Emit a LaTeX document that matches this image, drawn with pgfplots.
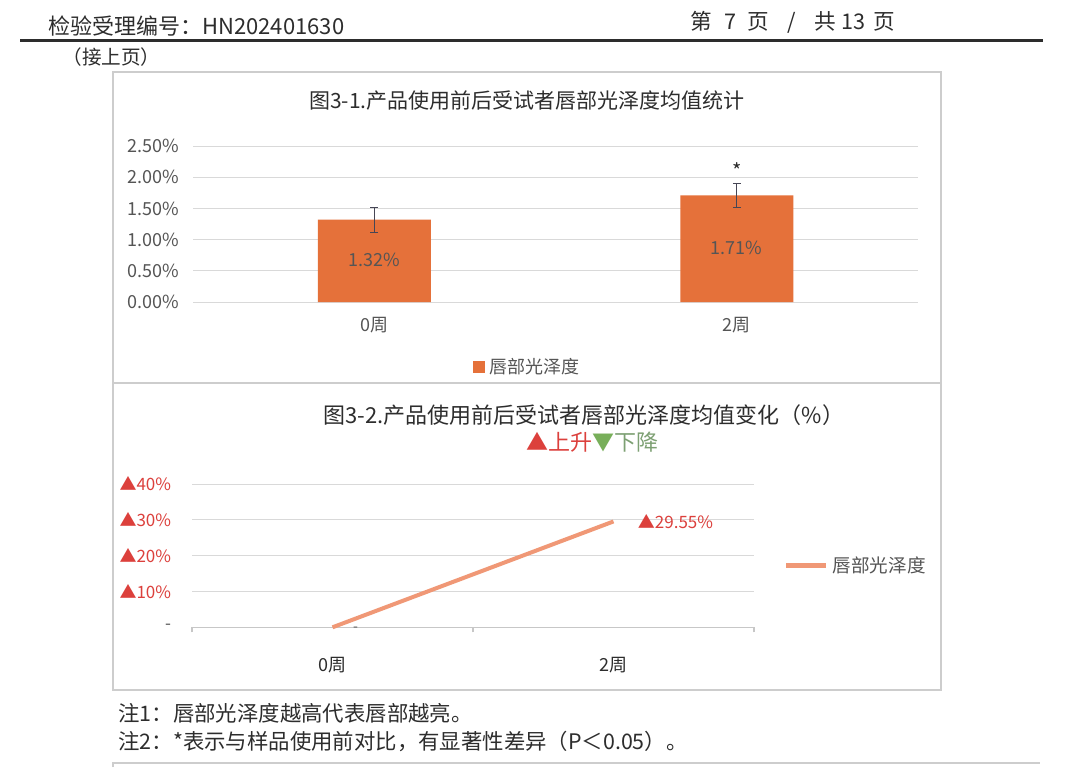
\documentclass[border=0pt]{standalone}
\usepackage{fontspec}
\setmainfont{Noto Sans CJK SC}
\usepackage{pgfplots}
\pgfplotsset{compat=1.18}
\definecolor{barcol}{RGB}{229,113,58}
\definecolor{linecol}{RGB}{240,152,118}
\definecolor{redc}{RGB}{220,64,60}
\definecolor{greentri}{RGB}{120,175,90}
\definecolor{greentext}{RGB}{125,160,115}
\definecolor{gridc}{RGB}{217,217,217}
\definecolor{textgray}{RGB}{85,85,85}
\definecolor{boxgray}{RGB}{205,205,205}
\definecolor{errc}{RGB}{70,70,85}
\definecolor{darktext}{RGB}{45,45,45}
\begin{document}
\begin{tikzpicture}
\fill[white] (0,0) rectangle (540pt,383.5pt);
\path[use as bounding box] (0,0) rectangle (540pt,383.5pt);
% header
\node[anchor=west, inner sep=0pt, text=darktext, font=\fontsize{11}{12}\selectfont] at (24pt,370.25pt) {检验受理编号：HN202401630};
\node[anchor=west, inner sep=0pt, text=darktext, font=\fontsize{10.8}{12}\selectfont] at (345pt,372.5pt) {第\hspace{6pt}7\hspace{6pt}页\hspace{9pt}/\hspace{9pt}共\hspace{3pt}13\hspace{4pt}页};
\draw[darktext, line width=1.4pt] (10pt,363.25pt) -- (521.5pt,363.25pt);
\node[anchor=west, inner sep=0pt, text=darktext, font=\fontsize{9.8}{11}\selectfont] at (31pt,355pt) {（接上页）};
% boxes
\draw[boxgray, line width=0.6pt] (56.5pt,347.5pt) rectangle (470.5pt,38.5pt);
\draw[boxgray, line width=0.6pt] (56.5pt,192pt) -- (470.5pt,192pt);
\draw[boxgray, line width=0.6pt] (56.5pt,0pt) -- (56.5pt,2pt) -- (520pt,2pt);
% chart 1 title
\node[text=darktext, font=\fontsize{10.5}{12}\selectfont] at (263.5pt,333pt) {图3-1.产品使用前后受试者唇部光泽度均值统计};
\begin{axis}[
  at={(96.5pt,232.5pt)}, anchor=south west,
  scale only axis, width=362.5pt, height=78pt,
  xmin=-0.5, xmax=1.5, ymin=0, ymax=2.5,
  axis line style={draw=none}, tick style={draw=none},
  ymajorgrids, grid style={gridc, line width=0.5pt},
  ytick={0,0.5,1,1.5,2,2.5},
  yticklabels={0.00\%,0.50\%,1.00\%,1.50\%,2.00\%,2.50\%},
  xtick={0,1}, xticklabels={0周,2周},
  ticklabel style={text=textgray, font=\fontsize{9}{10}\selectfont},
  yticklabel style={inner xsep=0pt, xshift=-7pt},
  xticklabel style={yshift=-4pt},
  clip=false,
  legend style={at={(0.386,-0.417)}, anchor=west, draw=none, fill=none, inner sep=0pt,
    font=\fontsize{9}{10}\selectfont, text=textgray},
  legend cell align=left,
]
\addplot[ybar, bar width=56.5pt, fill=barcol, draw=none,
  legend image code/.code={\fill[barcol] (0pt,-3pt) rectangle (6pt,3pt);},
  error bars/.cd, y dir=both, y explicit,
  error bar style={line width=0.6pt, errc},
  error mark options={rotate=90, mark size=2pt, line width=0.6pt, errc}]
  coordinates {(0,1.32) +- (0,0.2) (1,1.71) +- (0,0.19)};
\addlegendentry{唇部光泽度}
\node[text=textgray, font=\fontsize{9}{10}\selectfont] at (axis cs:0,0.67) {1.32\%};
\node[text=textgray, font=\fontsize{9}{10}\selectfont] at (axis cs:1,0.87) {1.71\%};
\node[text=darktext, font=\fontsize{10}{10}\selectfont] at (axis cs:1,2.1) {*};
\end{axis}
% chart 2 title
\node[text=darktext, font=\fontsize{11}{12}\selectfont] at (292pt,176pt) {图3-2.产品使用前后受试者唇部光泽度均值变化（\%）};
\node[font=\fontsize{11}{12}\selectfont] at (296pt,162.5pt) {\textcolor{redc}{▲上升}\textcolor{greentri}{▼}\textcolor{greentext}{下降}};
\begin{axis}[
  at={(96pt,69.85pt)}, anchor=south west,
  scale only axis, width=281pt, height=71.65pt,
  xmin=-0.5, xmax=1.5, ymin=0, ymax=40,
  axis x line*=bottom, axis y line*=left,
  x axis line style={-, draw=gridc!80!gray, line width=0.6pt},
  y axis line style={draw=none},
  ytick style={draw=none},
  ymajorgrids, grid style={gridc, line width=0.5pt},
  ytick={0,10,20,30,40},
  yticklabels={\textcolor{textgray}{-},▲10\%,▲20\%,▲30\%,▲40\%},
  xtick={0,1}, xticklabels={0周,2周},
  major x tick style={draw=none},
  minor xtick={-0.5,0.5,1.5}, minor tick length=2.5pt, tick align=outside,
  minor x tick style={gridc!80!gray, line width=0.6pt},
  yticklabel style={text=redc, font=\fontsize{8.5}{10}\selectfont, inner xsep=0pt, xshift=-6pt},
  xticklabel style={text=darktext, font=\fontsize{9}{10}\selectfont, yshift=-7pt},
  clip=false,
  legend style={at={(1.052,0.428)}, anchor=west, draw=none, fill=none, inner sep=0pt,
    font=\fontsize{9.3}{10}\selectfont, text=textgray},
  legend cell align=left,
]
\addplot[linecol, line width=2pt,
  legend image code/.code={\draw[linecol, line width=2.5pt] (0pt,0pt) -- (20pt,0pt);}]
  coordinates {(0,0) (1,29.55)};
\addlegendentry{唇部光泽度}
\node[anchor=west, text=redc, font=\fontsize{8.5}{10}\selectfont, inner sep=0pt] at (axis cs:1,29.55) [xshift=12pt] {▲29.55\%};
\node[text=textgray, font=\fontsize{7}{8}\selectfont, inner sep=0pt] at (axis cs:0,0) [xshift=11.5pt, yshift=-1pt] {-};
\end{axis}
% notes
\node[anchor=west, inner sep=0pt, text=darktext, font=\fontsize{10.7}{12}\selectfont] at (59pt,27pt) {注1：唇部光泽度越高代表唇部越亮。};
\node[anchor=west, inner sep=0pt, text=darktext, font=\fontsize{10.7}{12}\selectfont] at (59pt,13pt) {注2：*表示与样品使用前对比，有显著性差异（P＜0.05）。};
\end{tikzpicture}
\end{document}
